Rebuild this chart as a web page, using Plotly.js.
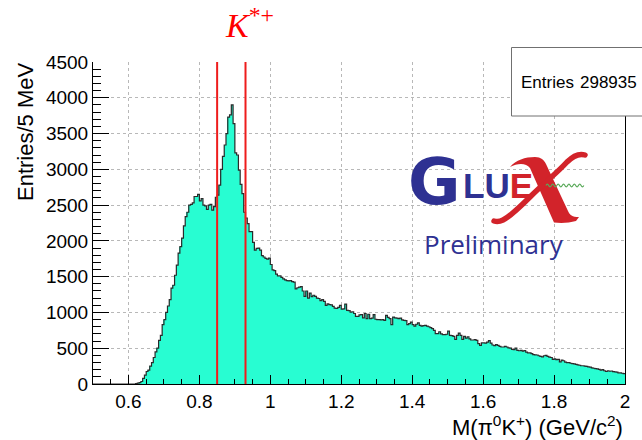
<!DOCTYPE html>
<html><head><meta charset="utf-8">
<script src="https://cdn.plot.ly/plotly-3.0.1.min.js"></script>
<style>html,body{margin:0;padding:0;background:#fff}#chart{width:642px;height:440px}</style>
</head><body><div id="chart"></div>
<script>
// ---- data ----
const binLow = 0.5;       // GeV/c^2, lower edge of first bin
const binWidth = 0.005;   // 5 MeV bins
const counts = [
0,0,0,0,0,0,0,0,0,0, 0,0,0,0,0,0,0,0,0,0, 0,0,0,0,5,12,18,35,80,125,
175,195,250,300,370,450,500,610,680,830, 900,1000,1090,1180,1340,1380,1520,1660,1830,1920,
2040,2210,2340,2400,2500,2510,2530,2620,2620,2650, 2560,2590,2500,2490,2440,2500,2510,2430,2480,2610,
2640,2780,3000,3180,3340,3500,3730,3760,3900,3640, 3230,3200,2990,2790,2660,2400,2320,2240,2130,2130,
1980,1870,1895,1900,1870,1795,1775,1755,1745,1760, 1670,1595,1585,1535,1510,1510,1490,1470,1455,1445,
1440,1445,1430,1425,1330,1345,1355,1360,1300,1225, 1300,1200,1270,1220,1240,1225,1200,1195,1165,1180,
1155,1100,1120,1110,1105,1085,1060,1055,1070,1100, 1045,1050,1115,1030,1025,1005,1010,985,945,945,
965,970,925,985,915,975,915,920,970,905, 900,900,895,900,890,960,930,915,830,935,
925,920,915,920,895,890,885,830,845,865, 830,810,835,855,820,810,815,820,810,800,
787,775,750,705,705,730,700,690,690,695, 740,680,675,665,625,680,710,680,625,665,
640,660,630,615,615,620,610,565,540,575, 575,570,585,605,570,545,535,550,540,525,
517,517,525,517,505,500,485,480,500,470, 465,470,460,468,445,435,435,425,410,408,
405,395,385,380,395,400,385,375,370,345, 350,340,345,310,335,325,305,298,298,290,
284,280,275,268,262,255,255,250,245,240, 235,225,220,215,210,205,195,200,185,175,
185,178,182,172,170,165,155,155,150,145
];
const xTickVals = [0.6, 0.8, 1.0, 1.2, 1.4, 1.6, 1.8, 2.0];
const xTickText = ['0.6', '0.8', '1', '1.2', '1.4', '1.6', '1.8', '2'];
const yTickVals = [0, 500, 1000, 1500, 2000, 2500, 3000, 3500, 4000, 4500];
const yTickText = ['0', '500', '1000', '1500', '2000', '2500', '3000', '3500', '4000', '4500'];
const kstarWindow = [0.85, 0.93];
const entriesLabel = 'Entries';
const entriesValue = '298935';

// ---- derived ----
const centers = counts.map((_, i) => binLow + binWidth * (i + 0.5));
const leftEdges = counts.map((_, i) => binLow + binWidth * i);
const stepX = leftEdges.concat([binLow + binWidth * counts.length]);
const stepY = counts.concat([counts[counts.length - 1]]);

const fillColor = 'rgb(40,253,210)';
const blue = '#2e3192', red = '#d2232a';

const bars = {
  type: 'bar', x: centers, y: counts, width: binWidth,
  marker: {color: fillColor, line: {width: 0}}, hoverinfo: 'skip'
};
const outline = {
  type: 'scatter', mode: 'lines', x: stepX, y: stepY,
  line: {shape: 'hv', color: '#2a2a2a', width: 1.2}, hoverinfo: 'skip'
};

// GlueX "X" swoosh + gluon wave (logo graphic)
const logoSvg =
 '<svg xmlns="http://www.w3.org/2000/svg" width="100" height="80" viewBox="0 0 100 80">' +
 '<path d="M19 17 C25 10,34 7,44 7 C50 7,53 10,55 14 L77 61 C79 65,81 67,88 67 L85 71 C78 73,70 73.5,63 72.5 L61 68 L39 18 C35 13,27 13,19 17 Z" fill="' + red + '"/>' +
 '<path d="M94 5 C88 3,82 6,76 12 C66 23,52 34,40 46 C30 56,20 66,12 70 C9 71.5,6 72,3 71" fill="none" stroke="' + red + '" stroke-width="5.5" stroke-linecap="round"/>' +
 '<path d="M55 35.5 q1.35 -2.6 2.7 0 t2.7 0 t2.7 0 t2.7 0 t2.7 0 t2.7 0 t2.7 0 t2.7 0 t2.7 0 t2.7 0 t2.7 0 t2.7 0 t2.7 0 t2.7 0" fill="none" stroke="#5aaa5a" stroke-width="1.2"/>' +
 '</svg>';
const logoSrc = 'data:image/svg+xml;charset=utf-8,' + encodeURIComponent(logoSvg);

// pixel helpers for layout placement (plot area 93..625 x 62..384)
const PX = x => (x - 93) / 532;
const PY = y => (384 - y) / 322;

const layout = {
  width: 642, height: 440,
  margin: {l: 93, r: 17, t: 62, b: 56, pad: 0},
  paper_bgcolor: '#ffffff', plot_bgcolor: '#ffffff',
  showlegend: false, bargap: 0,
  font: {family: 'Liberation Sans, Arial, sans-serif', size: 19, color: '#000'},
  xaxis: {
    range: [0.5, 2.0], tickmode: 'array', tickvals: xTickVals, ticktext: xTickText,
    ticks: 'inside', ticklen: 9.5, tickwidth: 1, tickcolor: '#000',
    showline: true, linecolor: '#000', linewidth: 1, mirror: false,
    showgrid: true, gridcolor: '#b8b8b8', griddash: 'dot', gridwidth: 1, zeroline: false,
    minor: {ticks: 'inside', ticklen: 5, tickcolor: '#000', dtick: 0.05, tick0: 0.5, showgrid: false},
    tickfont: {size: 19}, fixedrange: true
  },
  yaxis: {
    range: [0, 4500], tickmode: 'array', tickvals: yTickVals, ticktext: yTickText,
    ticks: 'inside', ticklen: 16, tickwidth: 1, tickcolor: '#000',
    showline: true, linecolor: '#000', linewidth: 1, mirror: true,
    showgrid: true, gridcolor: '#b8b8b8', griddash: 'dot', gridwidth: 1, zeroline: false,
    minor: {ticks: 'inside', ticklen: 8, tickcolor: '#000', dtick: 100, tick0: 0, showgrid: false},
    tickfont: {size: 19}, fixedrange: true
  },
  shapes: [
    {type: 'line', xref: 'x', yref: 'paper', x0: kstarWindow[0], x1: kstarWindow[0], y0: 0, y1: 1,
     line: {color: '#ee1c1c', width: 2}, layer: 'above'},
    {type: 'line', xref: 'x', yref: 'paper', x0: kstarWindow[1], x1: kstarWindow[1], y0: 0, y1: 1,
     line: {color: '#ee1c1c', width: 2}, layer: 'above'},
    {type: 'rect', xref: 'paper', yref: 'paper', x0: PX(511.5), x1: PX(645), y0: PY(116), y1: PY(47.5),
     fillcolor: '#ffffff', line: {color: '#707070', width: 1}, layer: 'above'}
  ],
  images: [
    {source: logoSrc, xref: 'paper', yref: 'paper', x: PX(491), y: PY(150), sizex: 100 / 532, sizey: 80 / 322,
     xanchor: 'left', yanchor: 'top', sizing: 'stretch', layer: 'above'}
  ],
  annotations: [
    {xref: 'paper', yref: 'paper', x: PX(25.5), y: PY(131.5), text: 'Entries/5 MeV', textangle: -90,
     showarrow: false, xanchor: 'center', yanchor: 'middle', font: {size: 22}},
    {xref: 'paper', yref: 'paper', x: 1.0, y: PY(425.5), text: 'M(π<sup>0</sup>K<sup>+</sup>) (GeV/c<sup>2</sup>)',
     showarrow: false, xanchor: 'right', yanchor: 'middle', font: {size: 22}},
    {xref: 'paper', yref: 'paper', x: PX(249.5), y: PY(1), text: '<i>K</i><sup>*+</sup>',
     showarrow: false, xanchor: 'center', yanchor: 'top', borderpad: 0,
     font: {family: 'Liberation Serif, Times New Roman, serif', size: 34, color: '#ff0000'}},
    {xref: 'paper', yref: 'paper', x: PX(518.5), y: PY(82), text: entriesLabel,
     showarrow: false, xanchor: 'left', yanchor: 'middle', font: {size: 17}},
    {xref: 'paper', yref: 'paper', x: PX(638.5), y: PY(82), text: entriesValue,
     showarrow: false, xanchor: 'right', yanchor: 'middle', font: {size: 17}},
    {xref: 'paper', yref: 'paper', x: PX(434), y: PY(182), text: 'G',
     showarrow: false, xanchor: 'center', yanchor: 'middle',
     font: {family: 'DejaVu Sans, sans-serif', size: 64, weight: 'bold', color: blue}},
    {xref: 'paper', yref: 'paper', x: PX(497.5), y: PY(185), text: 'LU<span style="color:' + red + '">E</span>',
     showarrow: false, xanchor: 'center', yanchor: 'middle',
     font: {family: 'Liberation Sans Narrow, Liberation Sans, sans-serif', size: 35, weight: 'bold', color: blue}},
    {xref: 'paper', yref: 'paper', x: PX(493.5), y: PY(244), text: 'Preliminary',
     showarrow: false, xanchor: 'center', yanchor: 'middle',
     font: {family: 'Open Sans, sans-serif', size: 26, color: blue}}
  ]
};

Plotly.newPlot('chart', [bars, outline], layout, {displayModeBar: false});
</script>
</body></html>
